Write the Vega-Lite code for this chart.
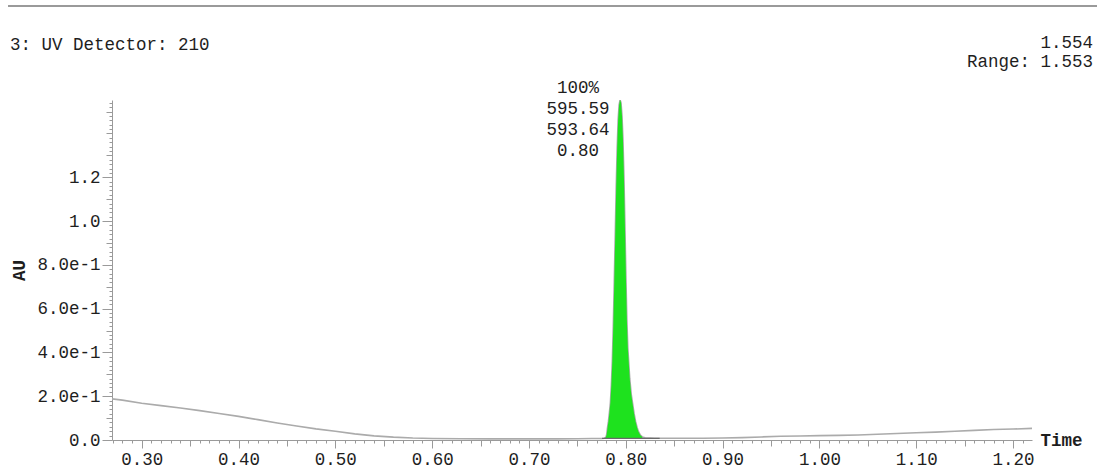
{
  "$schema": "https://vega.github.io/schema/vega-lite/v6.json",
  "width": 920,
  "height": 340,
  "autosize": {"type": "none"},
  "padding": {"left": 112, "top": 100, "right": 65, "bottom": 29},
  "background": "white",
  "config": {
    "view": {"stroke": null},
    "axis": {
      "labelFont": "Liberation Mono",
      "labelFontSize": 17.5,
      "labelColor": "#1e1e1e",
      "titleFont": "Liberation Mono",
      "titleFontSize": 17.5,
      "titleColor": "#1e1e1e",
      "domainColor": "#9a9a9a",
      "tickColor": "#9a9a9a",
      "grid": false,
      "labelOverlap": false,
      "labelBound": false,
      "labelFlush": false,
      "tickCount": 1000
    },
    "text": {"font": "Liberation Mono", "fontSize": 17.5, "fill": "#1e1e1e"}
  },
  "datasets": {
    "trace": [
      {"t": 0.2693, "v": 0.188}, {"t": 0.28, "v": 0.182}, {"t": 0.30, "v": 0.168}, {"t": 0.32, "v": 0.157},
      {"t": 0.34, "v": 0.146}, {"t": 0.36, "v": 0.134}, {"t": 0.38, "v": 0.121}, {"t": 0.40, "v": 0.108},
      {"t": 0.42, "v": 0.093}, {"t": 0.44, "v": 0.078}, {"t": 0.46, "v": 0.064}, {"t": 0.48, "v": 0.051},
      {"t": 0.50, "v": 0.040}, {"t": 0.52, "v": 0.028}, {"t": 0.54, "v": 0.019}, {"t": 0.56, "v": 0.013},
      {"t": 0.58, "v": 0.009}, {"t": 0.60, "v": 0.007}, {"t": 0.63, "v": 0.006}, {"t": 0.66, "v": 0.005},
      {"t": 0.70, "v": 0.005}, {"t": 0.73, "v": 0.005}, {"t": 0.75, "v": 0.006}, {"t": 0.765, "v": 0.007},
      {"t": 0.775, "v": 0.007}, {"t": 0.7780, "v": 0.008}, {"t": 0.7795, "v": 0.013}, {"t": 0.7803, "v": 0.025},
      {"t": 0.7811, "v": 0.055}, {"t": 0.7821, "v": 0.085}, {"t": 0.7831, "v": 0.125}, {"t": 0.7841, "v": 0.17},
      {"t": 0.7851, "v": 0.25}, {"t": 0.7861, "v": 0.36}, {"t": 0.7871, "v": 0.52}, {"t": 0.7881, "v": 0.72},
      {"t": 0.7891, "v": 0.93}, {"t": 0.7901, "v": 1.15}, {"t": 0.7911, "v": 1.33}, {"t": 0.7921, "v": 1.46},
      {"t": 0.7931, "v": 1.53}, {"t": 0.7941, "v": 1.554}, {"t": 0.7951, "v": 1.54}, {"t": 0.7961, "v": 1.48},
      {"t": 0.7971, "v": 1.37}, {"t": 0.7981, "v": 1.20}, {"t": 0.7991, "v": 0.98}, {"t": 0.8001, "v": 0.75},
      {"t": 0.8011, "v": 0.55}, {"t": 0.8021, "v": 0.42}, {"t": 0.8031, "v": 0.35}, {"t": 0.8041, "v": 0.28},
      {"t": 0.8056, "v": 0.21}, {"t": 0.8071, "v": 0.165}, {"t": 0.8086, "v": 0.12}, {"t": 0.8101, "v": 0.085},
      {"t": 0.8116, "v": 0.058}, {"t": 0.8131, "v": 0.038}, {"t": 0.8151, "v": 0.022}, {"t": 0.8171, "v": 0.014},
      {"t": 0.8200, "v": 0.010}, {"t": 0.825, "v": 0.009}, {"t": 0.830, "v": 0.008}, {"t": 0.84, "v": 0.008},
      {"t": 0.86, "v": 0.008}, {"t": 0.88, "v": 0.008}, {"t": 0.90, "v": 0.009}, {"t": 0.92, "v": 0.011},
      {"t": 0.94, "v": 0.014}, {"t": 0.96, "v": 0.017}, {"t": 0.98, "v": 0.018}, {"t": 1.00, "v": 0.020},
      {"t": 1.02, "v": 0.021}, {"t": 1.04, "v": 0.023}, {"t": 1.06, "v": 0.026}, {"t": 1.08, "v": 0.030},
      {"t": 1.10, "v": 0.033}, {"t": 1.12, "v": 0.036}, {"t": 1.14, "v": 0.040}, {"t": 1.16, "v": 0.044},
      {"t": 1.18, "v": 0.048}, {"t": 1.20, "v": 0.050}, {"t": 1.2196, "v": 0.053}
    ],
    "peak": [
      {"rt": 0.7941, "height": 1.554, "start": 0.7755, "end": 0.835, "base": 0.007, "label": "100%\n595.59\n593.64\n0.80"}
    ],
    "header": [
      {"t0": 0.2693, "t1": 1.2196, "top": 1.553, "left": "3: UV Detector: 210", "right": "1.554\nRange: 1.553", "rx0": 0.1619, "rx1": 1.2869, "ry": 1.9824}
    ]
  },
  "layer": [
    {
      "data": {"name": "trace"},
      "mark": {"type": "line", "color": "#ababab", "strokeWidth": 1.6, "clip": true},
      "encoding": {
        "x": {
          "field": "t", "type": "quantitative",
          "scale": {"domain": [0.2693, 1.2196], "nice": false, "zero": false},
          "axis": {
            "title": "Time",
            "titleX": 928, "titleY": 0, "titleAlign": "left", "titleBaseline": "middle", "titleAngle": 0,
            "values": [0.27,0.28,0.29,0.3,0.31,0.32,0.33,0.34,0.35,0.36,0.37,0.38,0.39,0.4,0.41,0.42,0.43,0.44,0.45,0.46,0.47,0.48,0.49,0.5,0.51,0.52,0.53,0.54,0.55,0.56,0.57,0.58,0.59,0.6,0.61,0.62,0.63,0.64,0.65,0.66,0.67,0.68,0.69,0.7,0.71,0.72,0.73,0.74,0.75,0.76,0.77,0.78,0.79,0.8,0.81,0.82,0.83,0.84,0.85,0.86,0.87,0.88,0.89,0.9,0.91,0.92,0.93,0.94,0.95,0.96,0.97,0.98,0.99,1.0,1.01,1.02,1.03,1.04,1.05,1.06,1.07,1.08,1.09,1.1,1.11,1.12,1.13,1.14,1.15,1.16,1.17,1.18,1.19,1.2,1.21],
            "tickCount": 1000,
            "labelExpr": "abs(datum.value*10 - round(datum.value*10)) < 0.001 ? format(datum.value, '.2f') : ''",
            "tickSize": {"condition": [
              {"test": "abs(datum.value*10 - round(datum.value*10)) < 0.001", "value": 8},
              {"test": "abs(datum.value*20 - round(datum.value*20)) < 0.001", "value": 6}
            ], "value": 3},
            "labelPadding": 2
          }
        },
        "y": {
          "field": "v", "type": "quantitative",
          "scale": {"domain": [0, 1.553], "nice": false, "zero": false},
          "axis": {
            "title": "AU",
            "titleX": -93, "titleY": 170, "titleAlign": "center", "titleBaseline": "middle", "titleAngle": -90,
            "values": [0,0.02,0.04,0.06,0.08,0.1,0.12,0.14,0.16,0.18,0.2,0.22,0.24,0.26,0.28,0.3,0.32,0.34,0.36,0.38,0.4,0.42,0.44,0.46,0.48,0.5,0.52,0.54,0.56,0.58,0.6,0.62,0.64,0.66,0.68,0.7,0.72,0.74,0.76,0.78,0.8,0.82,0.84,0.86,0.88,0.9,0.92,0.94,0.96,0.98,1.0,1.02,1.04,1.06,1.08,1.1,1.12,1.14,1.16,1.18,1.2,1.22,1.24,1.26,1.28,1.3,1.32,1.34,1.36,1.38,1.4,1.42,1.44,1.46,1.48,1.5,1.52,1.54],
            "tickCount": 1000,
            "labelExpr": "abs(datum.value*5 - round(datum.value*5)) < 0.001 && datum.value < 1.3 ? (datum.value == 0 ? '0.0' : (datum.value > 0.99 ? format(datum.value, '.1f') : format(datum.value, '.1e'))) : ''",
            "tickSize": {"condition": [
              {"test": "abs(datum.value*5 - round(datum.value*5)) < 0.001 && datum.value < 1.3", "value": 10},
              {"test": "abs(datum.value*10 - round(datum.value*10)) < 0.001", "value": 6}
            ], "value": 3},
            "labelPadding": 2
          }
        }
      }
    },
    {
      "data": {"name": "trace"},
      "transform": [{"filter": "datum.t >= 0.7775 && datum.t <= 0.8175"}],
      "mark": {"type": "area", "color": "#1ee21e", "opacity": 1},
      "encoding": {
        "x": {"field": "t", "type": "quantitative"},
        "y": {"field": "v", "type": "quantitative"},
        "y2": {"datum": 0.007}
      }
    },
    {
      "data": {"name": "peak"},
      "mark": {"type": "rule", "color": "#6a6a6a", "strokeWidth": 1.2},
      "encoding": {
        "x": {"field": "start", "type": "quantitative"},
        "x2": {"field": "end"},
        "y": {"field": "base", "type": "quantitative"}
      }
    },
    {
      "data": {"name": "peak"},
      "mark": {"type": "text", "align": "center", "baseline": "middle", "lineBreak": "\n", "lineHeight": 21, "dx": -42, "dy": -12},
      "encoding": {
        "x": {"field": "rt", "type": "quantitative"},
        "y": {"field": "height", "type": "quantitative"},
        "text": {"field": "label"}
      }
    },
    {
      "data": {"name": "header"},
      "mark": {"type": "text", "align": "left", "baseline": "middle", "dx": -102, "dy": -55},
      "encoding": {
        "x": {"field": "t0", "type": "quantitative"},
        "y": {"field": "top", "type": "quantitative"},
        "text": {"field": "left"}
      }
    },
    {
      "data": {"name": "header"},
      "mark": {"type": "text", "align": "right", "baseline": "middle", "lineBreak": "\n", "lineHeight": 19, "dx": 61, "dy": -57},
      "encoding": {
        "x": {"field": "t1", "type": "quantitative"},
        "y": {"field": "top", "type": "quantitative"},
        "text": {"field": "right"}
      }
    },
    {
      "data": {"name": "header"},
      "mark": {"type": "rule", "color": "#9a9a9a", "strokeWidth": 2},
      "encoding": {
        "x": {"field": "rx0", "type": "quantitative"},
        "x2": {"field": "rx1"},
        "y": {"field": "ry", "type": "quantitative"}
      }
    }
  ]
}
